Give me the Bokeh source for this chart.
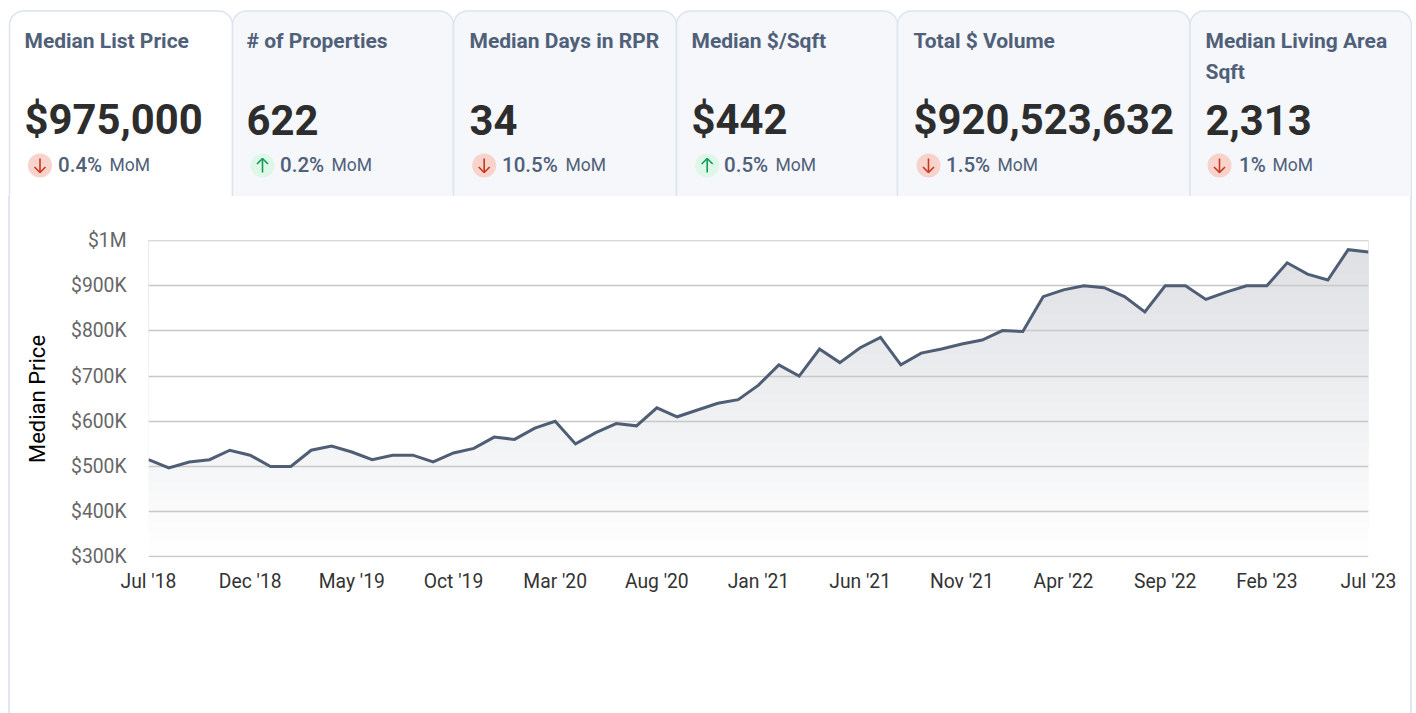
import numpy as np
from bokeh.core.properties import value
from bokeh.embed import file_html
from bokeh.layouts import column, row
from bokeh.models import FixedTicker, Range1d, Spacer
from bokeh.plotting import figure
from bokeh.resources import INLINE

# ---- data ----
titles = ["Median List Price", "# of Properties", "Median Days in RPR",
          "Median $/Sqft", "Total $ Volume", "Median Living Area"]
title_second_line = ["", "", "", "", "", "Sqft"]
card_values = ["$975,000", "622", "34", "$442", "$920,523,632", "2,313"]
deltas = ["0.4%", "0.2%", "10.5%", "0.5%", "1.5%", "1%"]
directions = ["down", "up", "down", "up", "down", "down"]
period = "MoM"

prices = [515, 497, 510, 515, 536, 525, 500, 500, 536, 545, 532, 515, 525, 525, 510,
          530, 540, 565, 560, 585, 600, 550, 575, 595, 590, 630, 610, 625, 640, 648,
          680, 725, 700, 760, 730, 763, 786, 725, 751, 760, 771, 780, 801, 799, 876,
          891, 900, 896, 876, 842, 900, 900, 870, 886, 900, 900, 951, 926, 913, 980, 975]
x_tick_labels = ["Jul '18", "Dec '18", "May '19", "Oct '19", "Mar '20", "Aug '20", "Jan '21",
                 "Jun '21", "Nov '21", "Apr '22", "Sep '22", "Feb '23", "Jul '23"]
y_ticks = [300, 400, 500, 600, 700, 800, 900, 1000]
y_tick_labels = ["$300K", "$400K", "$500K", "$600K", "$700K", "$800K", "$900K", "$1M"]
y_title = "Median Price"

# ---- layout ----
FONT = value("Roboto")
card_edges = [9, 232, 453, 676, 897, 1189.5, 1411]
title_x = [24, 246, 469, 691, 913, 1205]
icon_x = [39.5, 262, 483.7, 706.7, 928, 1219]
delta_x = [57.5, 279.5, 501.5, 723.5, 945.5, 1238.5]
period_x = [109, 331, 565, 775, 997, 1272]
SLATE = "#4f6078"
BORDER = "#dde4ee"

cards = figure(width=1412, height=196, x_range=Range1d(0, 1412), y_range=Range1d(196, 0),
               output_backend="svg", toolbar_location=None, min_border=0, frame_align=False,
               outline_line_color=None, background_fill_color="white", border_fill_color="white")
cards.axis.visible = False
cards.grid.visible = False


def card_outline(left, right, top=10.5, bottom=197, r=14):
    a = np.linspace(np.pi, 1.5 * np.pi, 10)
    b = np.linspace(1.5 * np.pi, 2 * np.pi, 10)
    xs = [left] + list(left + r + r * np.cos(a)) + list(right - r + r * np.cos(b)) + [right]
    ys = [bottom] + list(top + r + r * np.sin(a)) + list(top + r + r * np.sin(b)) + [bottom]
    return xs, ys


for i in range(6):
    xs, ys = card_outline(card_edges[i], card_edges[i + 1])
    cards.patch(xs, ys, fill_color="white" if i == 0 else "#f5f7fb",
                line_color=BORDER, line_width=1.5)

n = len(titles)
cards.text(title_x, [40] * n, text=titles, text_font=FONT, text_font_size="21px",
           text_font_style="bold", text_color=SLATE, text_baseline="alphabetic")
cards.text(title_x, [71] * n, text=title_second_line, text_font=FONT, text_font_size="21px",
           text_font_style="bold", text_color=SLATE, text_baseline="alphabetic")
cards.text(title_x, [119] * n, text=card_values, text_font=FONT, text_font_size="41.8px",
           text_font_style="bold", text_color="#2d2d2d", text_baseline="alphabetic")
cards.text(delta_x, [164.5] * n, text=deltas, text_font=value("Roboto Medium"), text_font_size="20.5px",
           text_color=SLATE, text_baseline="alphabetic")
cards.text(period_x, [164.5] * n, text=[period] * n, text_font=FONT, text_font_size="17.5px",
           text_color=SLATE, text_baseline="alphabetic")

for cx, d in zip(icon_x, directions):
    up = d == "up"
    cards.circle([cx], [165], radius=12, fill_color="#dff7e8" if up else "#f8d3cc", line_color=None)
    arrow = "#0f9d58" if up else "#c8361f"
    tip, tail, head = (158, 172, 163.5) if up else (172, 158, 166.5)
    cards.multi_line([[cx, cx], [cx - 5.5, cx, cx + 5.5]], [[tail, tip], [head, tip, head]],
                     line_color=arrow, line_width=1.6)

Y_BOTTOM, Y_TOP = 298.4, 1000.4
chart = figure(width=1400, height=517, x_range=Range1d(0, 60), y_range=Range1d(Y_BOTTOM, Y_TOP),
               output_backend="svg", toolbar_location=None, frame_align=False,
               min_border_left=138, min_border_right=42, min_border_top=44, min_border_bottom=156,
               outline_line_color=None, background_fill_color="white", border_fill_color="white")

months = np.arange(len(prices))
price_arr = np.array(prices, dtype=float)

# overlapping opaque strips give the vertical fade; a white area above the line trims them
levels = np.linspace(Y_BOTTOM, price_arr.max(), 140)
top_rgb = np.array([222, 224, 228])
strip_colors = []
for t in levels:
    f = (t - Y_BOTTOM) / (price_arr.max() - Y_BOTTOM)
    c = np.round(255 + (top_rgb - 255) * f).astype(int)
    strip_colors.append("#%02x%02x%02x" % tuple(c))
chart.quad(left=0, right=60, bottom=levels, top=Y_TOP, fill_color=strip_colors, line_color=None,
           level="image")
chart.varea(months, y1=price_arr, y2=np.full(len(months), Y_TOP), fill_color="white", level="image")

chart.line(months, price_arr, line_color="#4f5d75", line_width=3, line_join="miter")

chart.xaxis.ticker = FixedTicker(ticks=list(range(0, 61, 5)))
chart.xaxis.major_label_overrides = {i * 5: s for i, s in enumerate(x_tick_labels)}
chart.yaxis.ticker = FixedTicker(ticks=y_ticks)
chart.yaxis.major_label_overrides = dict(zip(y_ticks, y_tick_labels))
for ax in (chart.xaxis, chart.yaxis):
    ax.axis_line_color = None
    ax.major_tick_line_color = None
    ax.minor_tick_line_color = None
    ax.major_label_text_font = "Roboto"
    ax.major_label_text_font_size = "19.3px"
chart.xaxis.major_label_text_color = "#333333"
chart.yaxis.major_label_text_color = "#666666"
chart.xaxis.major_label_standoff = 6
chart.yaxis.major_label_standoff = 16
chart.yaxis.axis_label = y_title
chart.yaxis.axis_label_text_font = "Roboto"
chart.yaxis.axis_label_text_font_size = "22px"
chart.yaxis.axis_label_text_font_style = "normal"
chart.yaxis.axis_label_text_color = "#000000"
chart.yaxis.axis_label_standoff = 18
chart.xgrid.visible = False
chart.ygrid.grid_line_color = "#c8c8c8"
chart.ygrid.grid_line_width = 1.3

SIDE = {"background-color": "#e2e5f3"}
page = column(cards,
              row(Spacer(width=8, height=517), Spacer(width=2, height=517, styles=SIDE), chart,
                  Spacer(width=2, height=517, styles=SIDE), spacing=0),
              spacing=0)
open("out.html", "w").write(file_html(page, INLINE))
